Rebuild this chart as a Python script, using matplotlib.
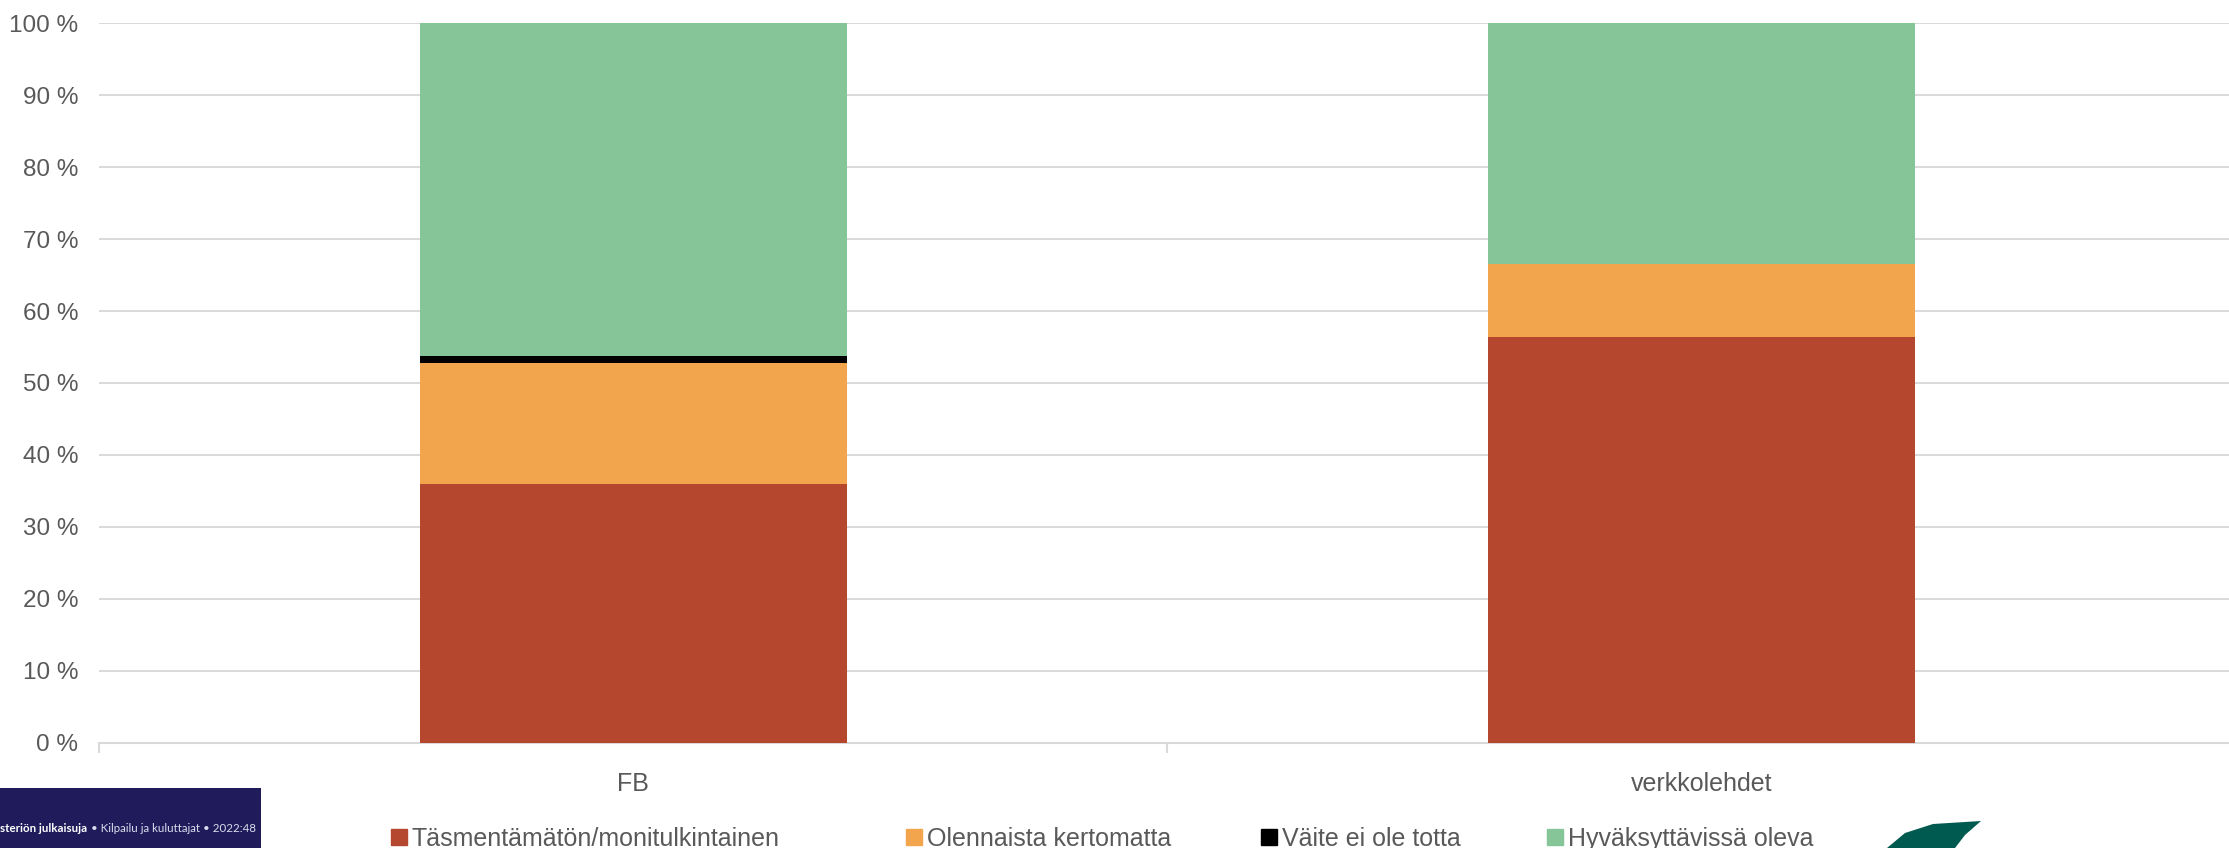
import matplotlib
matplotlib.use('Agg')
import matplotlib.pyplot as plt
from matplotlib.lines import Line2D
from matplotlib.patches import Rectangle, Polygon
import numpy as np

plt.rcParams['font.family'] = ['Liberation Sans', 'DejaVu Sans']

categories = ['FB', 'verkkolehdet']
series = ['Täsmentämätön/monitulkintainen', 'Olennaista kertomatta',
          'Väite ei ole totta', 'Hyväksyttävissä oleva']
values = {
    'Täsmentämätön/monitulkintainen': [35.9, 56.4],
    'Olennaista kertomatta': [16.9, 10.2],
    'Väite ei ole totta': [0.9, 0.0],
    'Hyväksyttävissä oleva': [46.3, 33.4],
}
colors = ['#B5472F', '#F3A54D', '#000000', '#86C598']
yticks = np.arange(0, 101, 10)
ytick_labels = ['%d %%' % v for v in yticks]

grey_text = '#595959'
grid_col = '#D9D9D9'

fig = plt.figure(figsize=(22.29, 8.48), dpi=100)
ax = fig.add_axes([0.04455, 0.1242, 0.9582, 0.8483])

x = np.arange(len(categories))
bottom = np.zeros(len(categories))
for name, col in zip(series, colors):
    vals = np.array(values[name])
    ax.bar(x, vals, width=0.4, bottom=bottom, color=col, zorder=3)
    bottom += vals

ax.set_xlim(-0.5, 1.5)
ax.set_ylim(0, 100)
ax.set_yticks(yticks)
ax.set_yticklabels(ytick_labels, color=grey_text, fontsize=17.5)
ax.set_xticks(x)
ax.set_xticklabels(categories, color=grey_text, fontsize=18)
ax.tick_params(axis='y', length=0, pad=15)
ax.tick_params(axis='x', which='major', length=0, pad=21)
ax.set_xticks([-0.5, 0.5, 1.5], minor=True)
ax.tick_params(axis='x', which='minor', length=7, width=1.5, color=grid_col)

ax.grid(axis='y', color=grid_col, linewidth=1.4, zorder=0)
for s in ['left', 'right', 'top']:
    ax.spines[s].set_visible(False)
ax.spines['bottom'].set_color(grid_col)
ax.spines['bottom'].set_linewidth(1.5)

# legend entries placed one by one, like Excel spaces them
legend_left_px = [388, 903, 1258, 1544]
for name, col, lx in zip(series, colors, legend_left_px):
    h = Line2D([], [], marker='s', linestyle='none', markersize=11,
               markerfacecolor=col, markeredgecolor=col)
    leg = fig.legend([h], [name], loc='center left', bbox_to_anchor=(lx / 2229, 0.0105),
                     frameon=False, fontsize=18, handletextpad=0.05,
                     handlelength=0.9, borderpad=0, borderaxespad=0)
    for t in leg.get_texts():
        t.set_color(grey_text)

# document overlays at the bottom edge
fig.patches.append(Rectangle((0, 0), 261 / 2229, 60 / 848, transform=fig.transFigure,
                             facecolor='#201C5C', edgecolor='none', zorder=5))
t1 = fig.text(0.0, 16 / 848, 'steriön julkaisuja', color='white', fontsize=8.3,
              fontweight='bold', family=['Lato', 'DejaVu Sans'], zorder=6)
fig.canvas.draw()
x1 = t1.get_window_extent().x1 / fig.bbox.width
fig.text(x1 + 4 / 2229, 16 / 848, '• Kilpailu ja kuluttajat • 2022:48', color='#DDDDEE',
         fontsize=8.3, family=['Lato', 'DejaVu Sans'], zorder=6)
leaf = [(1887, 848), (1905, 833), (1933, 824), (1981, 821), (1965, 835), (1955, 848)]
fig.patches.append(Polygon([(px / 2229, 1 - py / 848) for px, py in leaf],
                           closed=True, transform=fig.transFigure,
                           facecolor='#005A50', edgecolor='none', zorder=5))

fig.savefig('out.png', dpi=100)
plt.close()
